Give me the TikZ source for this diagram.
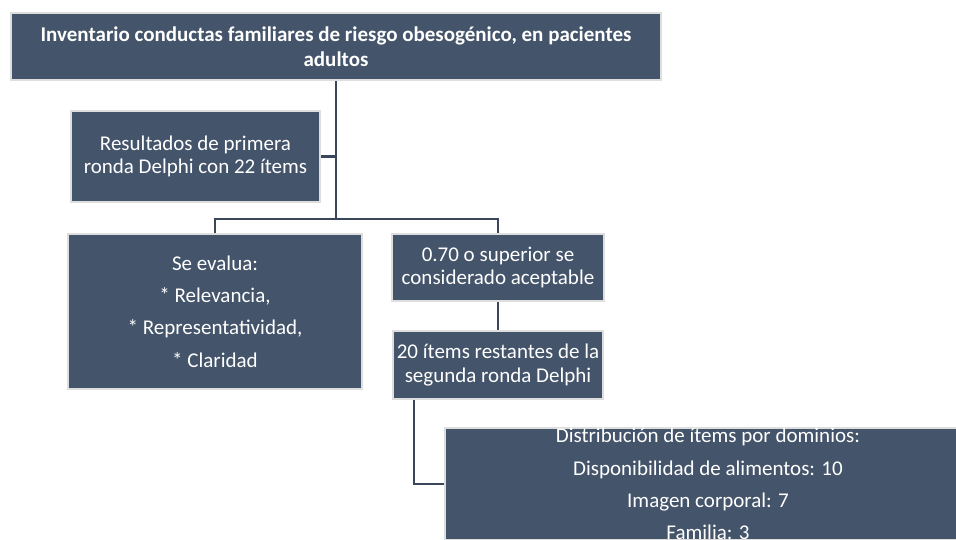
\documentclass[tikz,border=0pt]{standalone}
\usepackage{fontspec}
\setmainfont{Carlito}
\definecolor{boxfill}{HTML}{44546A}
\definecolor{boxedge}{HTML}{DEDEDE}
\definecolor{linkcol}{HTML}{3A475A}
\tikzset{
	orgbox/.style={draw=boxedge, line width=1.6pt, fill=boxfill, text=white, align=center, inner sep=0pt, font=\fontsize{21}{23.3}\selectfont},
	listbox/.style={orgbox, font=\fontsize{21}{32.4}\selectfont},
	link/.style={draw=linkcol, line width=2.2pt}
}
\begin{document}
\begin{tikzpicture}[x=1pt, y=-1pt]
\useasboundingbox (0,0) rectangle (956,539);
\clip (0,0) rectangle (956,539);

\node[orgbox, minimum width=650, minimum height=67, font=\bfseries\fontsize{21}{25}\selectfont] (titulo) at (336,46.5) {Inventario conductas familiares de riesgo obesogénico, en pacientes\\adultos};
\node[orgbox, minimum width=249, minimum height=91] (resultados) at (195.5,156.5) {Resultados de primera\\ronda Delphi con 22 ítems};
\node[listbox, minimum width=294, minimum height=155] (evalua) at (215,311.5) {Se evalua:\\* Relevancia,\\* Representatividad,\\* Claridad};
\node[orgbox, minimum width=212, minimum height=67] (aceptable) at (498,267.5) {0.70 o superior se\\considerado aceptable};
\node[orgbox, minimum width=210, minimum height=68] (restantes) at (498,365) {20 ítems restantes de la\\segunda ronda Delphi};
\node[listbox, minimum width=526, minimum height=108] (dominios) at (708,484) {Distribución de ítems por dominios:\\Disponibilidad de alimentos: 10\\Imagen corporal: 7\\Familia: 3};

\coordinate (rama) at (336,219);
\draw[link] (titulo.south) -- (rama);
\draw[link] (resultados.east) -- (resultados.east -| rama);
\draw[link] (evalua.north) |- (rama) -| (aceptable.north);
\draw[link] (aceptable.south) -- (restantes.north);
\draw[link] ([xshift=-84pt]restantes.south) |- (dominios.west);
\end{tikzpicture}
\end{document}
